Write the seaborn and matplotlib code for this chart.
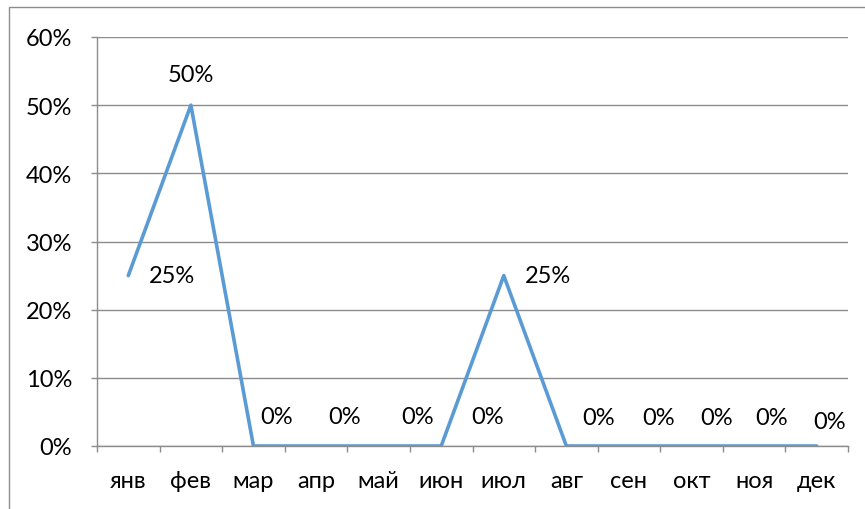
import matplotlib
matplotlib.use("Agg")
import matplotlib.pyplot as plt
import seaborn as sns
import pandas as pd
from matplotlib.patches import Rectangle
from matplotlib.ticker import PercentFormatter, FixedLocator

months = ["янв", "фев", "мар", "апр", "май", "июн", "июл", "авг", "сен", "окт", "ноя", "дек"]
shares = [0.25, 0.50, 0.0, 0.0, 0.0, 0.0, 0.25, 0.0, 0.0, 0.0, 0.0, 0.0]
y_ticks = [0.0, 0.1, 0.2, 0.3, 0.4, 0.5, 0.6]

# label offsets (pixels) from each point
label_dx = [44, 0, 23, 29, 39, 46, 44, 32, 30, 25, 17, 13]
label_dy = [0, 31, 29, 29, 29, 29, 0, 28, 28, 28, 28, 24]

sns.set_theme(style="white")
plt.rcParams["font.family"] = ["Lato", "DejaVu Sans"]

grid_col = "#8c8c8c"
line_col = "#5b9bd5"
fs = 17

df = pd.DataFrame({"month": range(len(months)), "share": shares})

fig = plt.figure(figsize=(8.65, 5.10), dpi=100)
ax = fig.add_axes([97 / 865, 63 / 510, 751 / 865, 409 / 510])

sns.lineplot(data=df, x="month", y="share", ax=ax, color=line_col, linewidth=2.6)

ax.set_xlim(-0.5, len(months) - 0.5)
ax.set_ylim(0, 0.6)
ax.yaxis.set_major_locator(FixedLocator(y_ticks))
ax.yaxis.set_major_formatter(PercentFormatter(1.0, decimals=0))
ax.set_xticks(range(len(months)))
ax.set_xticklabels(months)
ax.set_xticks([i - 0.5 for i in range(len(months) + 1)], minor=True)
ax.set_xlabel("")
ax.set_ylabel("")

ax.grid(axis="y", color=grid_col, linewidth=1.0)
ax.grid(axis="x", visible=False)
ax.set_axisbelow(True)

for side in ["top", "right"]:
    ax.spines[side].set_visible(False)
for side in ["left", "bottom"]:
    ax.spines[side].set_color(grid_col)
    ax.spines[side].set_linewidth(1.0)

ax.tick_params(axis="y", which="major", length=4.3, width=1.0, color=grid_col,
               pad=13.5, labelsize=fs, labelcolor="black", left=True)
ax.tick_params(axis="x", which="major", length=0, pad=17, labelsize=fs, labelcolor="black")
ax.tick_params(axis="x", which="minor", length=4.5, width=1.0, color=grid_col, bottom=True)

for i, v in enumerate(shares):
    ax.annotate(f"{v * 100:.0f}%", xy=(i, v), xytext=(label_dx[i], label_dy[i]),
                textcoords="offset pixels", ha="center", va="center",
                fontsize=fs, color="black")

fig.patches.append(Rectangle((9 / 865, -0.1), 1.1, (510 - 8) / 510 + 0.1,
                             transform=fig.transFigure, fill=False,
                             edgecolor="#8c8c8c", linewidth=1.0))

fig.savefig("out.png", dpi=100, facecolor="white")
